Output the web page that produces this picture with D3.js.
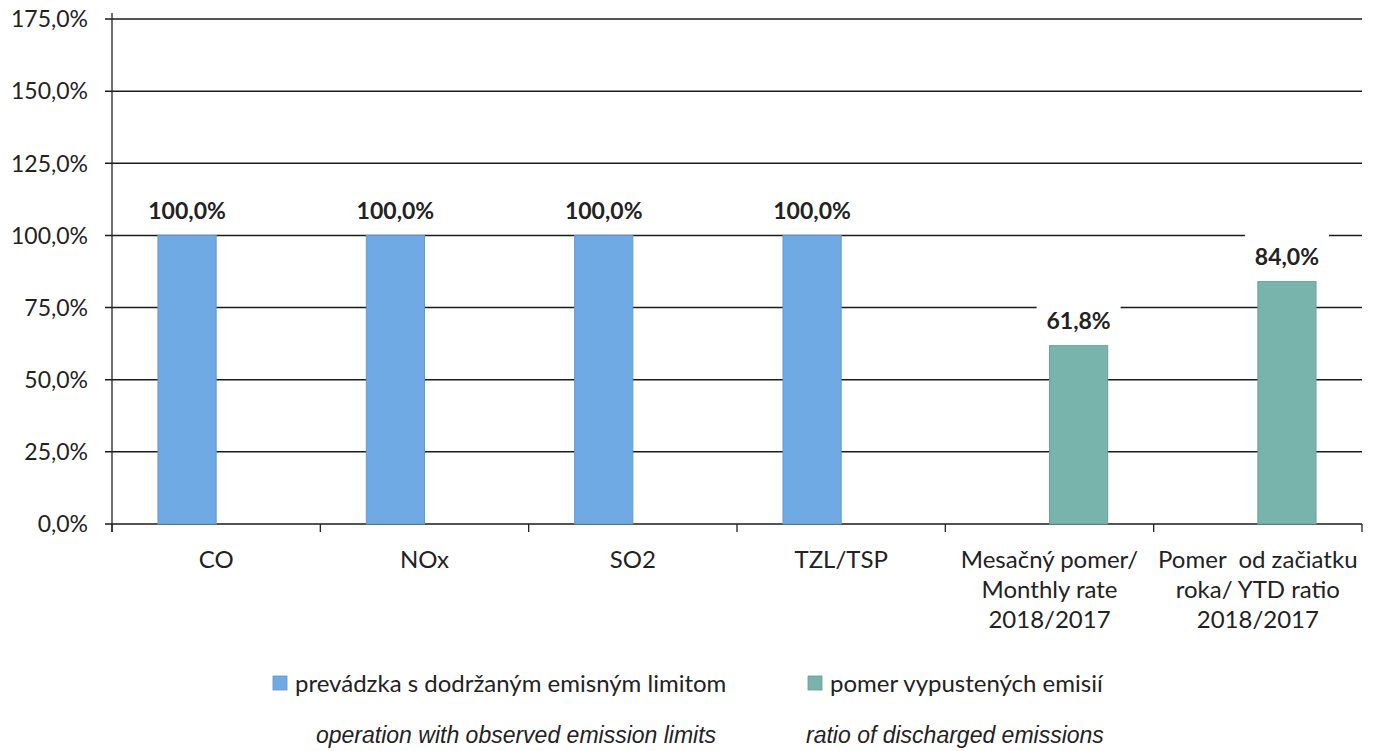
<!DOCTYPE html>
<html>
<head>
<meta charset="utf-8">
<script src="https://cdn.jsdelivr.net/npm/d3@7"></script>
<style>
    body { margin: 0; background: #fff; }
    svg { display: block; }
</style>
</head>
<body>
<svg width="1376" height="751"></svg>
<script>
var categories = [
    ["CO"],
    ["NOx"],
    ["SO2"],
    ["TZL/TSP"],
    ["Mesačný pomer/", "Monthly rate", "2018/2017"],
    ["Pomer  od začiatku", "roka/ YTD ratio", "2018/2017"]
];
var seriesNames = ["limit", "ratio"];
var limitValues = [100, 100, 100, 100, null, null];
var ratioValues = [null, null, null, null, 61.8, 84.0];
var yTicks = [0, 25, 50, 75, 100, 125, 150, 175];
var legendLabels = ["prevádzka s dodržaným emisným limitom", "pomer vypustených emisií"];
var legendEnglish = ["operation with observed emission limits", "ratio of discharged emissions"];

var colors = { limit: "#70aae4", ratio: "#79b4ac" };
var font = "Lato, 'Open Sans', sans-serif";

var svg = d3.select("svg");
var plotLeft = 112, plotRight = 1362, plotTop = 19, plotBottom = 524;

var x = d3.scaleBand().domain(d3.range(categories.length)).range([plotLeft, plotRight]);
var inner = d3.scaleBand().domain(seriesNames).range([0, x.bandwidth()]).paddingOuter(0.79);
var y = d3.scaleLinear().domain([0, 175]).range([plotBottom, plotTop]);

function fmt(v) {
    return v.toFixed(1).replace(".", ",") + "%";
}

// gridlines
svg.append("g")
    .selectAll("line")
    .data(yTicks)
    .enter()
    .append("line")
    .attr("x1", plotLeft - 7)
    .attr("x2", plotRight)
    .attr("y1", (d) => y(d))
    .attr("y2", (d) => y(d))
    .attr("stroke", "#1a1a1a")
    .attr("stroke-width", 1.5);

// y tick labels
svg.append("g")
    .selectAll("text")
    .data(yTicks)
    .enter()
    .append("text")
    .attr("x", 88)
    .attr("y", (d) => y(d))
    .attr("dy", "0.36em")
    .attr("text-anchor", "end")
    .style("font-family", font)
    .style("font-size", "23px")
    .style("fill", "#222")
    .text((d) => fmt(d));

// y axis line
svg.append("line")
    .attr("x1", plotLeft).attr("x2", plotLeft)
    .attr("y1", 13).attr("y2", plotBottom + 8)
    .attr("stroke", "#222")
    .attr("stroke-width", 1.3);

// bars
var bars = [];
categories.forEach((c, i) => {
    if (limitValues[i] != null) bars.push({ i: i, key: "limit", value: limitValues[i] });
    if (ratioValues[i] != null) bars.push({ i: i, key: "ratio", value: ratioValues[i] });
});

svg.append("g")
    .selectAll("rect")
    .data(bars)
    .enter()
    .append("rect")
    .attr("x", (d) => x(d.i) + inner(d.key))
    .attr("y", (d) => y(d.value))
    .attr("width", inner.bandwidth())
    .attr("height", (d) => plotBottom - y(d.value))
    .attr("fill", (d) => colors[d.key])
    .attr("stroke", (d) => d3.color(colors[d.key]).darker(0.3))
    .attr("stroke-width", 1);

// value labels with white box (it hides the gridline behind)
var labels = svg.append("g")
    .selectAll("g")
    .data(bars)
    .enter()
    .append("g")
    .attr("transform", (d) => "translate(" + (x(d.i) + inner(d.key) + inner.bandwidth() / 2) + "," + (y(d.value) - 25) + ")");

labels.append("rect")
    .attr("x", -42)
    .attr("y", -25)
    .attr("width", 84)
    .attr("height", 40)
    .attr("fill", "#fff");

labels.append("text")
    .attr("text-anchor", "middle")
    .attr("dy", "0.36em")
    .style("font-family", font)
    .style("font-size", "23px")
    .style("font-weight", "bold")
    .style("fill", "#222")
    .text((d) => fmt(d.value));

// x axis ticks
svg.append("g")
    .selectAll("line")
    .data(d3.range(categories.length + 1))
    .enter()
    .append("line")
    .attr("x1", (d) => plotLeft + d * x.step())
    .attr("x2", (d) => plotLeft + d * x.step())
    .attr("y1", plotBottom)
    .attr("y2", plotBottom + 8)
    .attr("stroke", "#222")
    .attr("stroke-width", 1.3);

// category labels
svg.append("g")
    .selectAll("text")
    .data(categories)
    .enter()
    .append("text")
    .attr("x", (d, i) => x(i) + x.bandwidth() / 2)
    .attr("y", 568)
    .attr("text-anchor", "middle")
    .style("font-family", font)
    .style("font-size", "24px")
    .style("fill", "#222")
    .style("white-space", "pre")
    .each(function (d) {
        var cx = d3.select(this).attr("x");
        d3.select(this)
            .selectAll("tspan")
            .data(d)
            .enter()
            .append("tspan")
            .attr("x", cx)
            .attr("dy", (t, j) => (j == 0 ? 0 : 30))
            .text((t) => t);
    });

// legend
var legendX = [273, 808];
var legend = svg.append("g")
    .selectAll("g")
    .data(seriesNames)
    .enter()
    .append("g")
    .attr("transform", (d, i) => "translate(" + legendX[i] + ",683)");

legend.append("rect")
    .attr("x", 0)
    .attr("y", -7)
    .attr("width", 14)
    .attr("height", 14)
    .attr("fill", (d) => colors[d])
    .attr("stroke", (d) => d3.color(colors[d]).darker(0.4))
    .attr("stroke-width", 0.8);

legend.append("text")
    .attr("x", 22)
    .attr("dy", "0.36em")
    .style("font-family", font)
    .style("font-size", "24px")
    .style("fill", "#222")
    .text((d, i) => legendLabels[i]);

var englishX = [316, 806];
svg.append("g")
    .selectAll("text")
    .data(legendEnglish)
    .enter()
    .append("text")
    .attr("x", (d, i) => englishX[i])
    .attr("y", 743)
    .style("font-family", "'Liberation Sans', Arial, sans-serif")
    .style("font-style", "italic")
    .style("font-size", "23px")
    .style("fill", "#222")
    .text((d) => d);
</script>
</body>
</html>
